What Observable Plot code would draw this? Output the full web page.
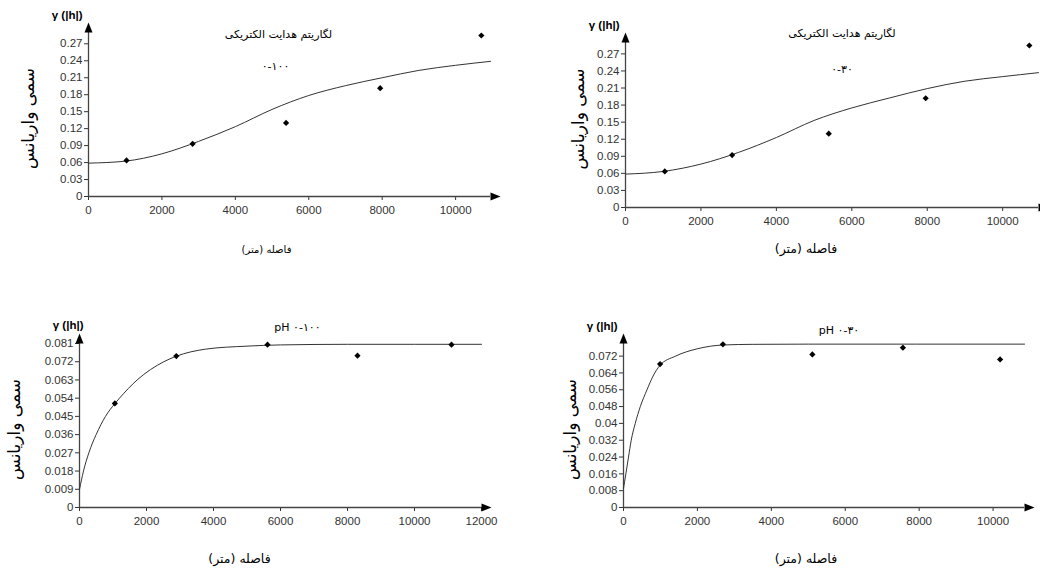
<!DOCTYPE html>
<html>
<head>
<meta charset="utf-8">
<script src="https://cdn.jsdelivr.net/npm/d3@7"></script>
<script src="https://cdn.jsdelivr.net/npm/@observablehq/plot@0.6"></script>
<style>
  html, body { margin: 0; padding: 0; background: #fff; }
  #root { position: relative; width: 1040px; height: 570px; overflow: hidden; }
  .panel { position: absolute; }
</style>
</head>
<body>
<div id="root"></div>
<script>
// ---------- data ----------
// Panel 1: log EC, 0-100
const ec100PointH = [1036, 2836, 5382, 7945, 10700];
const ec100PointG = [0.0637, 0.0931, 0.130, 0.1916, 0.2847];
const ec100CurveH = [0, 1000, 2000, 3000, 4000, 5000, 6000, 7000, 8000, 9000, 10000, 10950];
const ec100CurveG = [0.059, 0.0625, 0.0755, 0.0975, 0.1235, 0.154, 0.1786, 0.196, 0.21, 0.223, 0.232, 0.239];
// Panel 2: log EC, 0-30
const ec30PointH = [1042, 2827, 5389, 7959, 10707];
const ec30PointG = [0.0634, 0.0922, 0.1297, 0.192, 0.2847];
const ec30CurveH = [0, 1000, 2000, 3000, 4000, 5000, 6000, 7000, 8000, 9000, 10000, 10950];
const ec30CurveG = [0.0587, 0.0634, 0.0763, 0.0969, 0.123, 0.153, 0.175, 0.1925, 0.209, 0.222, 0.230, 0.237];
// Panel 3: pH, 0-100
const ph100PointH = [1055, 2890, 5612, 8298, 11104];
const ph100PointG = [0.0514, 0.0748, 0.0804, 0.075, 0.0804];
const ph100CurveH = [0, 119, 279, 497, 776, 1055, 1194, 1721, 2517, 2886, 3761, 5000, 6000, 8000, 12000];
const ph100CurveG = [0.0089, 0.018, 0.027, 0.036, 0.045, 0.0513, 0.054, 0.063, 0.072, 0.0747, 0.0782, 0.0797, 0.0803, 0.0806, 0.0806];
// Panel 4: pH, 0-30
const ph30PointH = [990, 2690, 5110, 7560, 10190];
const ph30PointG = [0.0682, 0.0776, 0.0728, 0.076, 0.0704];
const ph30CurveH = [0, 64, 136, 209, 318, 455, 636, 800, 982, 1409, 2000, 2709, 3500, 5000, 10850];
const ph30CurveG = [0.0091, 0.016, 0.024, 0.032, 0.04, 0.048, 0.056, 0.0625, 0.0675, 0.072, 0.0755, 0.0773, 0.0776, 0.0777, 0.0777];

// tick values
const xTicks10k = [0, 2000, 4000, 6000, 8000, 10000];
const xTicks12k = [0, 2000, 4000, 6000, 8000, 10000, 12000];
const yTicksEC = [0, 0.03, 0.06, 0.09, 0.12, 0.15, 0.18, 0.21, 0.24, 0.27];
const yTicksPH100 = [0, 0.009, 0.018, 0.027, 0.036, 0.045, 0.054, 0.063, 0.072, 0.081];
const yTicksPH30 = [0, 0.008, 0.016, 0.024, 0.032, 0.04, 0.048, 0.056, 0.064, 0.072];

// texts
const gammaLabel = "γ (|h|)";
const yLabel = "سمی واریانس";
const xLabel = "فاصله (متر)";
const ecTitle = "لگاریتم هدایت الکتریکی";
const ec100Sub = "۰-۱۰۰";
const ec30Sub = "۰-۳۰";
const ph100Title = "pH ۰-۱۰۰";
const ph30Title = "pH ۰-۳۰";

// ---------- drawing ----------
const latin = "Arial, 'Liberation Sans', 'DejaVu Sans', sans-serif";
const arabic = "Tahoma, 'DejaVu Sans', 'Noto Sans', sans-serif";
const axisColor = "#444";

const arrowUp = { draw(ctx) { ctx.moveTo(0, -10); ctx.lineTo(4, 0); ctx.lineTo(-4, 0); ctx.closePath(); } };
const arrowRight = { draw(ctx) { ctx.moveTo(10, 0); ctx.lineTo(0, 4); ctx.lineTo(0, -4); ctx.closePath(); } };

function zipPts(h, g) { return h.map((v, i) => ({h: v, g: g[i]})); }

function panel(c) {
  const pts = zipPts(c.pointH, c.pointG);
  const curve = zipPts(c.curveH, c.curveG);
  const marks = [
    Plot.ruleX([0], {y1: 0, y2: c.yMax, stroke: axisColor, strokeWidth: 1.3}),
    Plot.ruleY([0], {x1: 0, x2: c.xMax, stroke: axisColor, strokeWidth: 1.3}),
    Plot.dot([{h: 0, g: c.yMax}], {x: "h", y: "g", symbol: arrowUp, fill: "#000", stroke: "none"}),
    Plot.dot([{h: c.xMax, g: 0}], {x: "h", y: "g", symbol: arrowRight, fill: "#000", stroke: "none"}),
    Plot.line(curve, {x: "h", y: "g", curve: "monotone-x", stroke: "#333", strokeWidth: 1}),
    Plot.dot(pts, {x: "h", y: "g", symbol: "diamond2", r: 2.8, fill: "#000", stroke: "none"}),
    Plot.text([gammaLabel], {text: d => d, frameAnchor: "top-left", textAnchor: "end", lineAnchor: "middle", dx: c.gdx, dy: c.gdy,
      fontFamily: latin, fontSize: 11.5, fontWeight: "bold", fill: "#000"}),
    Plot.text([yLabel], {text: d => d, frameAnchor: "left", textAnchor: "middle", lineAnchor: "middle", rotate: -90, dx: c.ydx, dy: c.ydy,
      fontFamily: arabic, fontSize: 17, fill: "#000"}),
    Plot.text([xLabel], {text: d => d, frameAnchor: "bottom", textAnchor: "middle", lineAnchor: "middle", dx: c.xdx, dy: c.xdy,
      fontFamily: arabic, fontSize: c.xfs, fill: "#000"}),
    Plot.text([c.title], {text: d => d, frameAnchor: "top", textAnchor: "middle", lineAnchor: "middle", dx: c.tdx, dy: c.tdy,
      fontFamily: arabic, fontSize: 11, fill: "#000"})
  ];
  if (c.sub) marks.push(Plot.text([c.sub], {text: d => d, frameAnchor: "top", textAnchor: "middle", lineAnchor: "middle", dx: c.sdx, dy: c.sdy,
      fontFamily: arabic, fontSize: 11, fill: "#000"}));
  const svg = Plot.plot({
    width: 520, height: 270,
    marginLeft: c.ml, marginRight: c.mr, marginTop: c.mt, marginBottom: c.mb,
    style: {fontFamily: latin, fontSize: "11.5px", color: "#333", background: "transparent", overflow: "visible"},
    x: {domain: [0, c.xMax], ticks: c.xTicks, tickSize: 4, tickPadding: 5, tickFormat: d => String(d), label: null, line: false},
    y: {domain: [0, c.yMax], ticks: c.yTicks, tickSize: 4, tickPadding: 2, tickFormat: d => String(d), label: null, line: false},
    marks
  });
  const div = document.createElement("div");
  div.className = "panel";
  div.style.left = c.left + "px";
  div.style.top = c.top + "px";
  div.appendChild(svg);
  document.getElementById("root").appendChild(div);
}

panel({left: 0, top: 0, ml: 88, mr: 30, mt: 32, mb: 74, xMax: 10950, yMax: 0.29,
  xTicks: xTicks10k, yTicks: yTicksEC, pointH: ec100PointH, pointG: ec100PointG, curveH: ec100CurveH, curveG: ec100CurveG,
  gdx: -6, gdy: -17, ydx: -60, ydy: 4, xdx: -23, xdy: 53, xfs: 10,
  title: ecTitle, tdx: -11, tdy: 2, sub: ec100Sub, sdx: -14, sdy: 34});

panel({left: 520, top: 0, ml: 105, mr: 2, mt: 42, mb: 63, xMax: 10950, yMax: 0.29,
  xTicks: xTicks10k, yTicks: yTicksEC, pointH: ec30PointH, pointG: ec30PointG, curveH: ec30CurveH, curveG: ec30CurveG,
  gdx: -6, gdy: -17, ydx: -47, ydy: -6, xdx: -26, xdy: 41, xfs: 12.5,
  title: ecTitle, tdx: 10, tdy: -9, sub: ec30Sub, sdx: 10, sdy: 27});

panel({left: 0, top: 300, ml: 79, mr: 39, mt: 43, mb: 63, xMax: 12000, yMax: 0.081,
  xTicks: xTicks12k, yTicks: yTicksPH100, pointH: ph100PointH, pointG: ph100PointG, curveH: ph100CurveH, curveG: ph100CurveG,
  gdx: 4, gdy: -18, ydx: -65, ydy: 4, xdx: -41, xdy: 51, xfs: 12.5,
  title: ph100Title, tdx: 17, tdy: -16});

panel({left: 520, top: 300, ml: 103, mr: 16, mt: 43, mb: 63, xMax: 10850, yMax: 0.078,
  xTicks: xTicks10k, yTicks: yTicksPH30, pointH: ph30PointH, pointG: ph30PointG, curveH: ph30CurveH, curveG: ph30CurveG,
  gdx: -6, gdy: -17, ydx: -53, ydy: 4, xdx: -18, xdy: 51, xfs: 12.5,
  title: ph30Title, tdx: 15, tdy: -13});
</script>
</body>
</html>
